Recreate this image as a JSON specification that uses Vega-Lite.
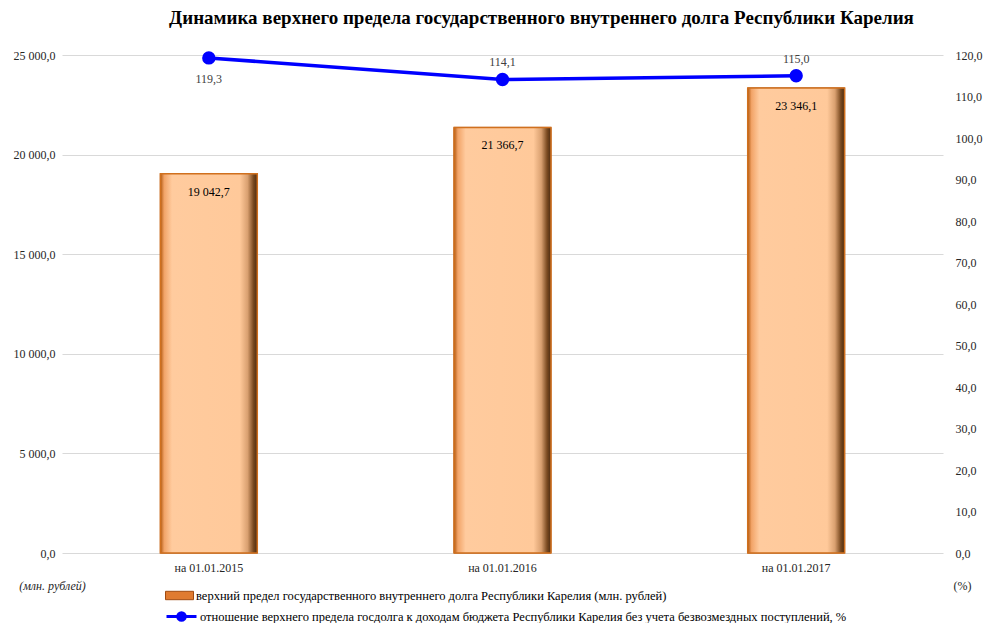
{
  "$schema": "https://vega.github.io/schema/vega-lite/v6.json",
  "width": 881,
  "height": 498,
  "autosize": {"type": "none"},
  "padding": {"left": 62, "top": 55, "right": 41, "bottom": 70},
  "background": "white",
  "title": {
    "text": "Динамика верхнего предела государственного внутреннего долга Республики Карелия",
    "font": "Liberation Serif, Times New Roman, serif",
    "fontSize": 19,
    "fontWeight": "bold",
    "color": "#000000",
    "anchor": "middle",
    "dx": 39,
    "offset": 20
  },
  "config": {
    "locale": {"number": {"decimal": ",", "thousands": " ", "grouping": [3], "currency": ["", ""]}},
    "view": {"stroke": null},
    "font": "Liberation Serif, Times New Roman, serif",
    "axis": {"labelFont": "Liberation Serif, Times New Roman, serif", "labelFontSize": 12, "labelColor": "#262626", "titleFont": "Liberation Serif, Times New Roman, serif", "titleFontSize": 12, "titleColor": "#262626", "titleFontWeight": "normal"},
    "legend": {"labelFont": "Liberation Serif, Times New Roman, serif", "labelFontSize": 12.5, "labelColor": "#000000", "labelLimit": 800, "padding": 0}
  },
  "data": {
    "values": [
      {"date": "на 01.01.2015", "debt": 19042.7, "ratio": 119.3, "s1": "верхний предел государственного внутреннего долга Республики Карелия (млн. рублей)", "s2": "отношение верхнего предела госдолга к доходам бюджета Республики Карелия без учета безвозмездных поступлений, %"},
      {"date": "на 01.01.2016", "debt": 21366.7, "ratio": 114.1, "s1": "верхний предел государственного внутреннего долга Республики Карелия (млн. рублей)", "s2": "отношение верхнего предела госдолга к доходам бюджета Республики Карелия без учета безвозмездных поступлений, %"},
      {"date": "на 01.01.2017", "debt": 23346.1, "ratio": 115.0, "s1": "верхний предел государственного внутреннего долга Республики Карелия (млн. рублей)", "s2": "отношение верхнего предела госдолга к доходам бюджета Республики Карелия без учета безвозмездных поступлений, %"}
    ]
  },
  "encoding": {
    "x": {
      "field": "date", "type": "nominal", "sort": null,
      "scale": {"paddingInner": 0, "paddingOuter": 0},
      "axis": {"title": null, "labelAngle": 0, "ticks": false, "domain": false, "labelPadding": 9}
    }
  },
  "layer": [
    {
      "layer": [
        {
          "mark": {"type": "bar", "width": {"band": 0.33}, "stroke": "#A04A10", "strokeWidth": 1},
          "encoding": {
            "y": {
              "field": "debt", "type": "quantitative",
              "scale": {"domain": [0, 25000]},
              "axis": {
                "values": [0, 5000, 10000, 15000, 20000, 25000],
                "format": ",.1f",
                "grid": true, "gridColor": "#d9d9d9", "domain": false, "ticks": false, "labelPadding": 7,
                "title": "(млн. рублей)", "titleAngle": 0, "titleFontStyle": "italic",
                "titleX": -10, "titleY": 530, "titleAlign": "center", "titleBaseline": "middle"
              }
            },
            "fill": {
              "field": "s1", "type": "nominal",
              "scale": {"range": ["#E07B30"]},
              "legend": {
                "title": null, "orient": "none", "legendX": 103, "legendY": 526,
                "symbolType": "M-1,-0.3H1V0.3H-1Z", "symbolSize": 784,
                "symbolStrokeColor": "#A04A10", "symbolStrokeWidth": 1, "labelOffset": 2
              }
            }
          }
        },
        {
          "mark": {
            "type": "bar",
            "width": {"band": 0.33},
            "stroke": "#D0701E",
            "strokeWidth": 1.5,
            "fill": {
              "gradient": "linear", "x1": 0, "y1": 0, "x2": 1, "y2": 0,
              "stops": [
                {"offset": 0, "color": "#B35A12"},
                {"offset": 0.04, "color": "#F2A468"},
                {"offset": 0.12, "color": "#FFCB9E"},
                {"offset": 0.82, "color": "#FFC99A"},
                {"offset": 0.9, "color": "#D9A070"},
                {"offset": 0.96, "color": "#7A4A20"},
                {"offset": 1, "color": "#4A2A10"}
              ]
            }
          },
          "encoding": {
            "y": {"field": "debt", "type": "quantitative", "scale": {"domain": [0, 25000]}}
          }
        },
        {
          "mark": {"type": "text", "dy": 18, "font": "Liberation Serif, Times New Roman, serif", "fontSize": 12, "color": "#000000"},
          "encoding": {
            "y": {"field": "debt", "type": "quantitative", "scale": {"domain": [0, 25000]}},
            "text": {"field": "debt", "type": "quantitative", "format": ",.1f"}
          }
        }
      ]
    },
    {
      "layer": [
        {
          "mark": {"type": "line", "color": "#0000FF", "strokeWidth": 3.5, "point": {"filled": true, "size": 130, "color": "#0000FF"}},
          "encoding": {
            "y": {
              "field": "ratio", "type": "quantitative",
              "scale": {"domain": [0, 120]},
              "axis": {
                "orient": "right",
                "values": [0, 10, 20, 30, 40, 50, 60, 70, 80, 90, 100, 110, 120],
                "format": ".1f",
                "grid": false, "domain": false, "ticks": false, "labelPadding": 12,
                "title": "(%)", "titleAngle": 0,
                "titleX": 19, "titleY": 530, "titleAlign": "center", "titleBaseline": "middle"
              }
            },
            "stroke": {
              "field": "s2", "type": "nominal",
              "scale": {"range": ["#0000FF"]},
              "legend": {
                "title": null, "orient": "none", "legendX": 103, "legendY": 545,
                "symbolType": "M-1,0H1M0.25,0A0.25,0.25,0,1,1,-0.25,0A0.25,0.25,0,1,1,0.25,0Z",
                "symbolSize": 900, "symbolFillColor": "#0000FF", "symbolStrokeWidth": 3, "labelOffset": 2
              }
            }
          }
        },
        {
          "transform": [{"filter": "datum.ratio > 117"}],
          "mark": {"type": "text", "dy": 21, "font": "Liberation Serif, Times New Roman, serif", "fontSize": 12, "color": "#404040"},
          "encoding": {
            "y": {"field": "ratio", "type": "quantitative", "scale": {"domain": [0, 120]}},
            "text": {"field": "ratio", "type": "quantitative", "format": ".1f"}
          }
        },
        {
          "transform": [{"filter": "datum.ratio <= 117"}],
          "mark": {"type": "text", "dy": -17, "font": "Liberation Serif, Times New Roman, serif", "fontSize": 12, "color": "#404040"},
          "encoding": {
            "y": {"field": "ratio", "type": "quantitative", "scale": {"domain": [0, 120]}},
            "text": {"field": "ratio", "type": "quantitative", "format": ".1f"}
          }
        }
      ]
    }
  ],
  "resolve": {"scale": {"y": "independent", "fill": "independent", "stroke": "independent"}}
}
